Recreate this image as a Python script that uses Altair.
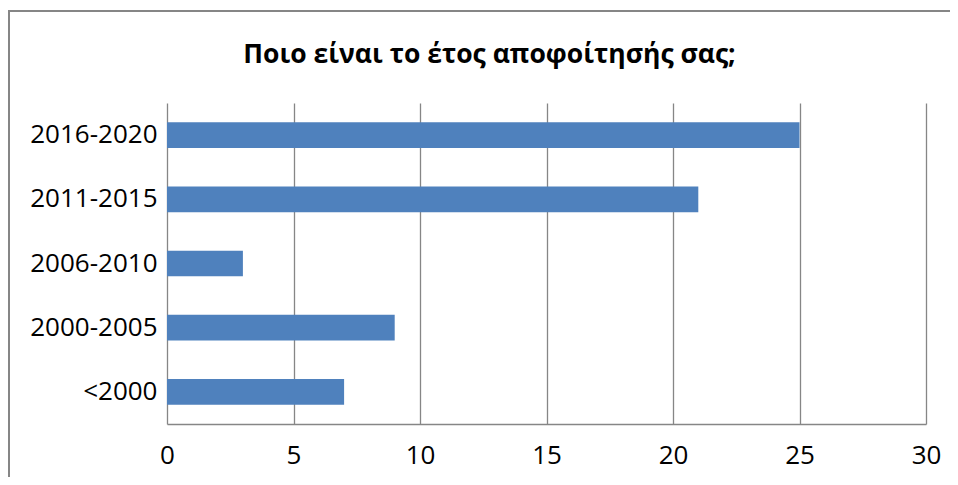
import altair as alt
import pandas as pd

categories = ["2016-2020", "2011-2015", "2006-2010", "2000-2005", "<2000"]
values = [25, 21, 3, 9, 7]
x_ticks = [0, 5, 10, 15, 20, 25, 30]
title_text = "Ποιο είναι το έτος αποφοίτησής σας;"

df = pd.DataFrame({"cat": categories, "val": values})

W, H = 759, 321
FONT = "Open Sans"
GRAY = "#868686"

bars = alt.Chart(df).mark_bar(color="#4F81BD").encode(
    y=alt.Y("cat:N", sort=categories,
            scale=alt.Scale(paddingInner=0.6, paddingOuter=0.3),
            axis=alt.Axis(title=None, domain=False, ticks=False, grid=False,
                          labelFontSize=26, labelFont=FONT, labelColor="#000000",
                          labelPadding=10)),
    x=alt.X("val:Q", scale=alt.Scale(domain=[0, 30], nice=False),
            axis=alt.Axis(title=None, values=x_ticks, grid=True, gridColor=GRAY,
                          gridWidth=1.3, domainColor=GRAY, domainWidth=1.3, ticks=False,
                          labelFontSize=26, labelFont=FONT, labelColor="#000000",
                          labelPadding=18, labelFlush=False)),
)

one = pd.DataFrame({"title": [title_text]})
# decorative chart frame (left and top edges), drawn as thin filled strips
frame_left = alt.Chart(one).mark_rect(color=GRAY, strokeWidth=0).encode(
    x=alt.value(-159), x2=alt.value(-157), y=alt.value(-93), y2=alt.value(H + 60),
)
frame_top = alt.Chart(one).mark_rect(color=GRAY, strokeWidth=0).encode(
    x=alt.value(-159), x2=alt.value(W + 24), y=alt.value(-93), y2=alt.value(-91),
)
title = alt.Chart(one).mark_text(
    font=FONT, fontSize=26.5, fontWeight="bold", color="#000000",
    align="center", baseline="middle",
).encode(
    text="title:N", x=alt.value(W / 2 - 57), y=alt.value(-48),
)

chart = alt.layer(frame_left, frame_top, title, bars).properties(
    width=W, height=H,
    padding={"left": 159, "top": 95, "right": 24, "bottom": 53},
    autosize=alt.AutoSizeParams(type="none"),
).configure_view(strokeWidth=0)

chart.save("out.html", embed_options={"renderer": "svg", "actions": False})
